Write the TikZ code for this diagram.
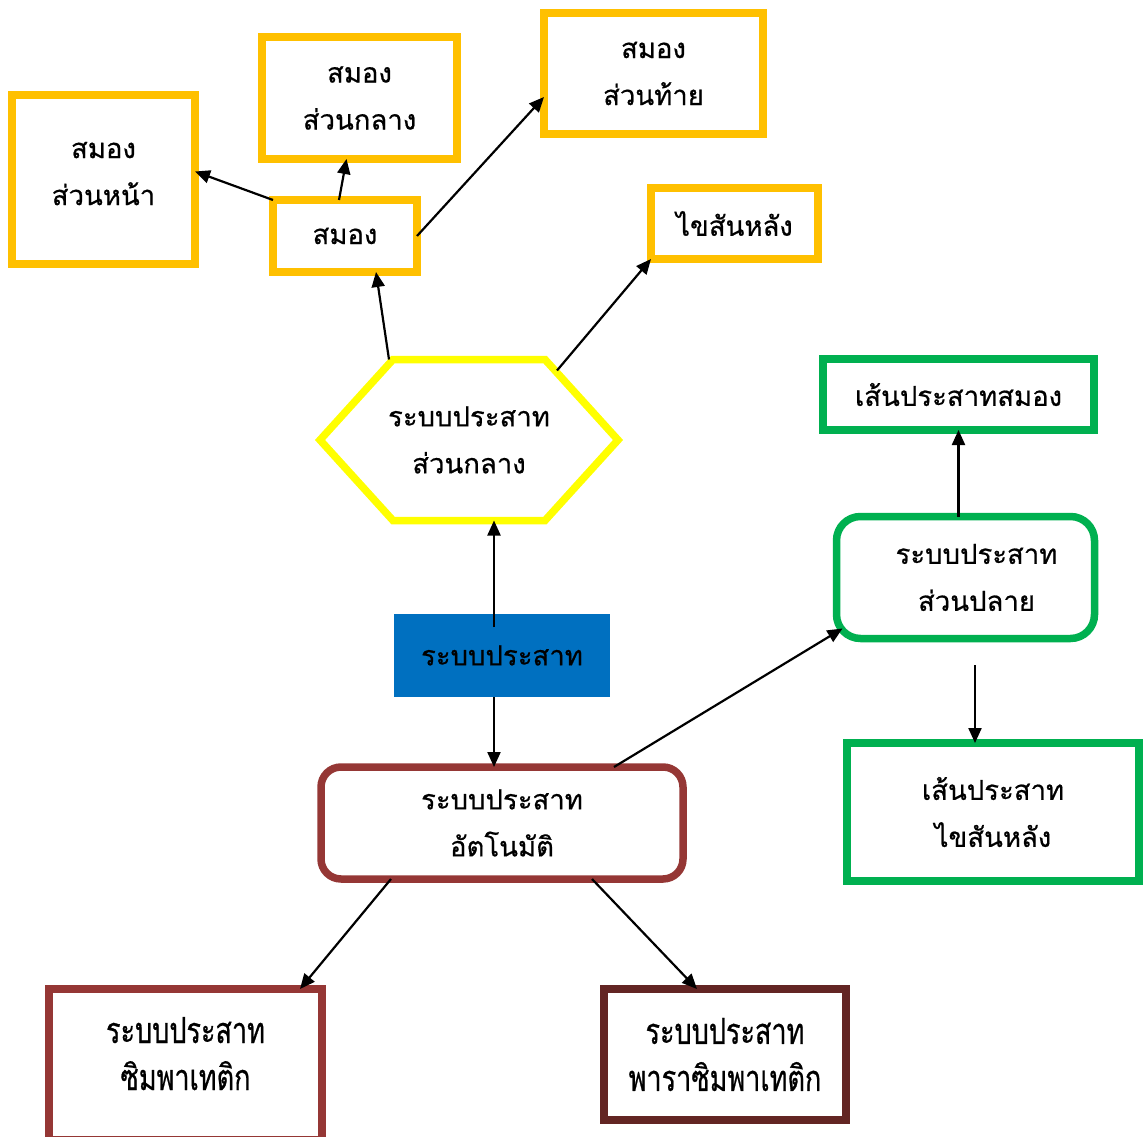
\documentclass[tikz,border=0pt]{standalone}
\usepackage{fontspec}
\newfontfamily\thaifont[Script=Thai,FakeBold=0.6]{Loma}
\newfontfamily\thainarrow[Script=Thai,FakeStretch=0.75,FakeBold=0.6]{Loma}
\usetikzlibrary{arrows.meta}

\definecolor{boxgold}{HTML}{FFC000}
\definecolor{hexyellow}{HTML}{FFFF00}
\definecolor{nsblue}{HTML}{0070C0}
\definecolor{autobrown}{HTML}{953735}
\definecolor{darkbrown}{HTML}{632523}
\definecolor{pnsgreen}{HTML}{00B050}

\begin{document}
\begin{tikzpicture}[x=1pt,y=-1pt,
  box/.style={draw, line width=7.5pt, inner sep=0pt, outer sep=0pt, align=center,
    font=\thaifont\fontsize{27.5}{47}\selectfont},
  goldbox/.style={box, draw=boxgold},
  greenbox/.style={box, draw=pnsgreen},
  narrowbox/.style={box, font=\thainarrow\fontsize{36}{47}\selectfont},
  link/.style={line width=2.2pt, -{Triangle[length=15pt,width=13pt]}}]

% ------------------------------------------------------------------
% Page: same size as the reference, 1144 by 1137, y runs downwards.
% ------------------------------------------------------------------
\useasboundingbox (0,0) rectangle (1144,1137);

% Central nervous system and the brain
\node[goldbox, minimum width=183pt, minimum height=169pt] (fore) at (103.5,179.5) {สมอง\\ส่วนหน้า\\[-35pt]\mbox{}};
\node[goldbox, minimum width=195pt, minimum height=122pt] (mid) at (359.5,98) {สมอง\\ส่วนกลาง};
\node[goldbox, minimum width=219pt, minimum height=121pt] (hind) at (653.5,73.5) {สมอง\\ส่วนท้าย};
\node[goldbox, minimum width=144pt, minimum height=72pt] (brain) at (345,236) {สมอง};
\node[goldbox, minimum width=167pt, minimum height=71pt] (spine) at (734.5,223.5) {ไขสันหลัง};

\node[box, draw=none, minimum width=298pt, minimum height=161pt] (cns) at (469,440) {ระบบประสาท\\ส่วนกลาง};
\draw[hexyellow, line width=7.5pt, line join=miter]
  (cns.west) -- ([xshift=-76pt]cns.north) -- ([xshift=76pt]cns.north)
  -- (cns.east) -- ([xshift=76pt]cns.south) -- ([xshift=-76pt]cns.south) -- cycle;

% Root node
\node[box, draw=none, fill=nsblue, minimum width=216pt, minimum height=83pt] (ns) at (502,655.5) {ระบบประสาท};

% Peripheral nervous system
\node[greenbox, rounded corners=24pt, minimum width=258pt, minimum height=122pt] (pns) at (965.5,577.5) {\hspace*{22pt}ระบบประสาท\\\hspace*{22pt}ส่วนปลาย};
\node[greenbox, minimum width=271pt, minimum height=71pt] (cranial) at (958.5,394.5) {เส้นประสาทสมอง};
\node[greenbox, minimum width=292pt, minimum height=138pt] (spnerve) at (993,812) {เส้นประสาท\\ไขสันหลัง};
\coordinate (pnsout) at (975,665);

% Autonomic nervous system
\node[box, draw=autobrown, rounded corners=20pt, minimum width=362pt, minimum height=112pt] (auto) at (502,823) {ระบบประสาท\\อัตโนมัติ};
\node[narrowbox, draw=autobrown, minimum width=273pt, minimum height=151pt] (symp) at (185.5,1064.5) {ระบบประสาท\\ซิมพาเทติก\\[-25pt]\mbox{}};
\node[narrowbox, draw=darkbrown, minimum width=242pt, minimum height=131pt] (para) at (725,1054.5) {ระบบประสาท\\พาราซิมพาเทติก};

% Connectors
\draw[link] (brain.north west) -- ([yshift=8pt]fore.east);
\draw[link] ([xshift=-6pt]brain.north) -- ([xshift=-13pt]mid.south);
\draw[link] (brain.east) -- ([yshift=37pt]hind.south west);
\draw[link] ([xshift=-80pt]cns.north) -- ([xshift=31pt]brain.south);
\draw[link] ([xshift=88pt,yshift=-11pt]cns.north) -- (spine.south west);
\draw[link] ([xshift=-8pt,yshift=-13pt]ns.north) -- ([xshift=25pt]cns.south);
\draw[link] ([xshift=-8pt]ns.south) -- ([xshift=-8pt]auto.north);
\draw[link] ([xshift=112pt]auto.north) -- ([xshift=6pt,yshift=10pt]pns.south west);
\draw[link] (cranial.south |- pns.north) -- (cranial.south);
\draw[link] (pnsout) -- (pnsout |- spnerve.north);
\draw[link] ([xshift=-111pt]auto.south) -- ([xshift=114.5pt]symp.north);
\draw[link] ([xshift=90pt]auto.south) -- ([xshift=-28pt]para.north);

\end{tikzpicture}
\end{document}
